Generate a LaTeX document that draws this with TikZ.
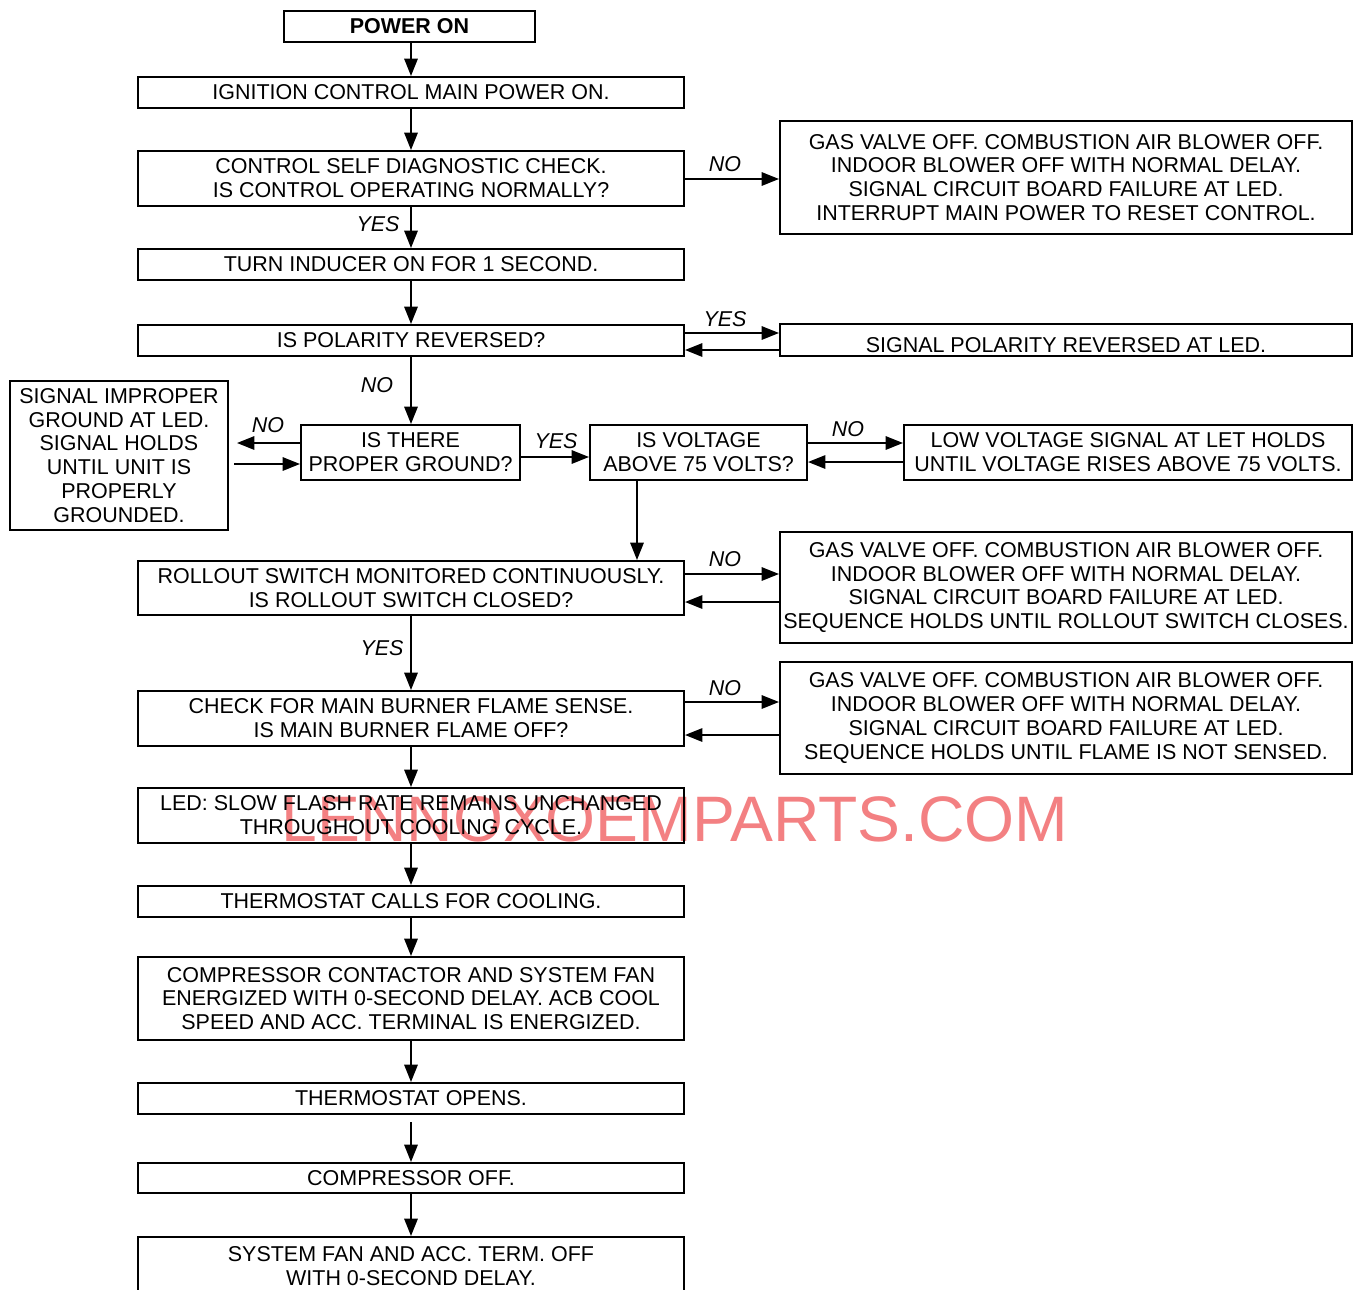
\documentclass[tikz,border=0pt]{standalone}
\usepackage{fontspec}
\setmainfont{Liberation Sans}
\usetikzlibrary{arrows.meta}
\newdimen\pxu \pxu=0.75pt
\definecolor{wmark}{RGB}{243,128,130}
\tikzset{
  box/.style={draw, line width=1.5pt, align=center, inner sep=0pt,
    font=\fontsize{16.1}{17.9}\selectfont},
  txt/.style={align=center, inner sep=0pt, font=\fontsize{16.1}{17.9}\selectfont},
  lbl/.style={inner sep=0pt, font=\fontsize{16.1}{17.9}\selectfont\itshape},
  arr/.style={line width=1.5pt, -{Triangle[length=13pt,width=10pt]}}
}
\begin{document}
\begin{tikzpicture}[x=0.75pt,y=-0.75pt]
\useasboundingbox (0,0) rectangle (1360,1289);
\clip (0,0) rectangle (1360,1289);
\fill[white] (0,0) rectangle (1360,1289);
% watermark
\node[inner sep=0pt, text=wmark, font=\fontsize{48.2}{50}\selectfont] (wm) at (675,819) {LENNOXOEMPARTS.COM};
% main column
\node[box, minimum width=251\pxu, minimum height=31\pxu, font=\fontsize{16.1}{17.9}\selectfont\bfseries] (pwr) at (409.5,26) {POWER ON};
\node[box, minimum width=546\pxu, minimum height=31\pxu] (ign) at (411,92.5) {IGNITION CONTROL MAIN POWER ON.};
\node[box, minimum width=546\pxu, minimum height=55\pxu] (ctrl) at (411,178.5) {CONTROL SELF DIAGNOSTIC CHECK.\\IS CONTROL OPERATING NORMALLY?};
\node[box, minimum width=546\pxu, minimum height=31\pxu] (ind) at (411,264.5) {TURN INDUCER ON FOR 1 SECOND.};
\node[box, minimum width=546\pxu, minimum height=31\pxu] (pol) at (411,340.5) {IS POLARITY REVERSED?};
\node[box, minimum width=572\pxu, minimum height=32\pxu] (sigpol) at (1066,340) {};
\node[txt] (sigpolt) at (1066,345.5) {SIGNAL POLARITY REVERSED AT LED.};
\node[box, minimum width=572\pxu, minimum height=113\pxu] (gas1) at (1066,177.5) {GAS VALVE OFF. COMBUSTION AIR BLOWER OFF.\\INDOOR BLOWER OFF WITH NORMAL DELAY.\\SIGNAL CIRCUIT BOARD FAILURE AT LED.\\INTERRUPT MAIN POWER TO RESET CONTROL.};
\node[box, minimum width=218\pxu, minimum height=149\pxu] (imp) at (119,455.5) {SIGNAL IMPROPER\\GROUND AT LED.\\SIGNAL HOLDS\\UNTIL UNIT IS\\PROPERLY\\GROUNDED.};
\node[box, minimum width=219\pxu, minimum height=55\pxu] (gnd) at (410.5,452.5) {IS THERE\\PROPER GROUND?};
\node[box, minimum width=217\pxu, minimum height=55\pxu] (volt) at (698.5,452.5) {IS VOLTAGE\\ABOVE 75 VOLTS?};
\node[box, minimum width=448\pxu, minimum height=55\pxu] (low) at (1128,452.5) {LOW VOLTAGE SIGNAL AT LET HOLDS\\UNTIL VOLTAGE RISES ABOVE 75 VOLTS.};
\node[box, minimum width=546\pxu, minimum height=54\pxu] (roll) at (411,588) {ROLLOUT SWITCH MONITORED CONTINUOUSLY.\\IS ROLLOUT SWITCH CLOSED?};
\node[box, minimum width=572\pxu, minimum height=111\pxu] (gas2) at (1066,587.5) {GAS VALVE OFF. COMBUSTION AIR BLOWER OFF.\\INDOOR BLOWER OFF WITH NORMAL DELAY.\\SIGNAL CIRCUIT BOARD FAILURE AT LED.\\SEQUENCE HOLDS UNTIL ROLLOUT SWITCH CLOSES.};
\node[box, minimum width=546\pxu, minimum height=55\pxu] (chk) at (411,718.5) {CHECK FOR MAIN BURNER FLAME SENSE.\\IS MAIN BURNER FLAME OFF?};
\node[box, minimum width=572\pxu, minimum height=112\pxu] (gas3) at (1066,718) {GAS VALVE OFF. COMBUSTION AIR BLOWER OFF.\\INDOOR BLOWER OFF WITH NORMAL DELAY.\\SIGNAL CIRCUIT BOARD FAILURE AT LED.\\SEQUENCE HOLDS UNTIL FLAME IS NOT SENSED.};
\node[box, minimum width=546\pxu, minimum height=55\pxu] (led) at (411,815.5) {LED: SLOW FLASH RATE REMAINS UNCHANGED\\THROUGHOUT COOLING CYCLE.};
\node[box, minimum width=546\pxu, minimum height=31\pxu] (tcall) at (411,901.5) {THERMOSTAT CALLS FOR COOLING.};
\node[box, minimum width=546\pxu, minimum height=83\pxu] (comp) at (411,998.5) {COMPRESSOR CONTACTOR AND SYSTEM FAN\\ENERGIZED WITH 0-SECOND DELAY. ACB COOL\\SPEED AND ACC. TERMINAL IS ENERGIZED.};
\node[box, minimum width=546\pxu, minimum height=31\pxu] (topen) at (411,1098.5) {THERMOSTAT OPENS.};
\node[box, minimum width=546\pxu, minimum height=30\pxu] (coff) at (411,1178) {COMPRESSOR OFF.};
\node[box, minimum width=546\pxu, minimum height=70\pxu] (sfan) at (411,1272) {};
\node[txt] (sfant) at (411,1266) {SYSTEM FAN AND ACC. TERM. OFF\\WITH 0-SECOND DELAY.};
% helper coordinates
\coordinate (mx) at (411,0);
\coordinate (vx) at (637,0);
% vertical arrows
\draw[arr] (pwr.south -| mx) -- (ign.north -| mx);
\draw[arr] (ign) -- (ctrl);
\draw[arr] (ctrl) -- (ind);
\draw[arr] (ind) -- (pol);
\draw[arr] (pol.south -| mx) -- (gnd.north -| mx);
\draw[arr] (volt.south -| vx) -- (roll.north -| vx);
\draw[arr] (roll) -- (chk);
\draw[arr] (chk) -- (led);
\draw[arr] (led) -- (tcall);
\draw[arr] (tcall) -- (comp);
\draw[arr] (comp) -- (topen);
\draw[arr, shorten <=7\pxu] (topen) -- (coff);
\draw[arr] (coff) -- (sfan);
% horizontal arrows
\draw[arr] (ctrl.east |- 0,179) -- (gas1.west |- 0,179);
\draw[arr] (pol.east |- 0,333) -- (sigpol.west |- 0,333);
\draw[arr] (sigpol.west |- 0,350) -- (pol.east |- 0,350);
\draw[arr, shorten >=8\pxu] (gnd.west |- 0,443) -- (imp.east |- 0,443);
\draw[arr, shorten <=5\pxu] (imp.east |- 0,464) -- (gnd.west |- 0,464);
\draw[arr] (gnd.east |- 0,457) -- (volt.west |- 0,457);
\draw[arr] (volt.east |- 0,443) -- (low.west |- 0,443);
\draw[arr] (low.west |- 0,462) -- (volt.east |- 0,462);
\draw[arr] (roll.east |- 0,574) -- (gas2.west |- 0,574);
\draw[arr] (gas2.west |- 0,602) -- (roll.east |- 0,602);
\draw[arr] (chk.east |- 0,702) -- (gas3.west |- 0,702);
\draw[arr] (gas3.west |- 0,735) -- (chk.east |- 0,735);
% labels
\node[lbl] (l1) at (725,164) {NO};
\node[lbl] (l2) at (378,224) {YES};
\node[lbl] (l3) at (725,319) {YES};
\node[lbl] (l4) at (377,385) {NO};
\node[lbl] (l5) at (268,425) {NO};
\node[lbl] (l6) at (556,441) {YES};
\node[lbl] (l7) at (848,429) {NO};
\node[lbl] (l8) at (725,559) {NO};
\node[lbl] (l9) at (382,648) {YES};
\node[lbl] (l10) at (725,688) {NO};
\end{tikzpicture}
\end{document}
